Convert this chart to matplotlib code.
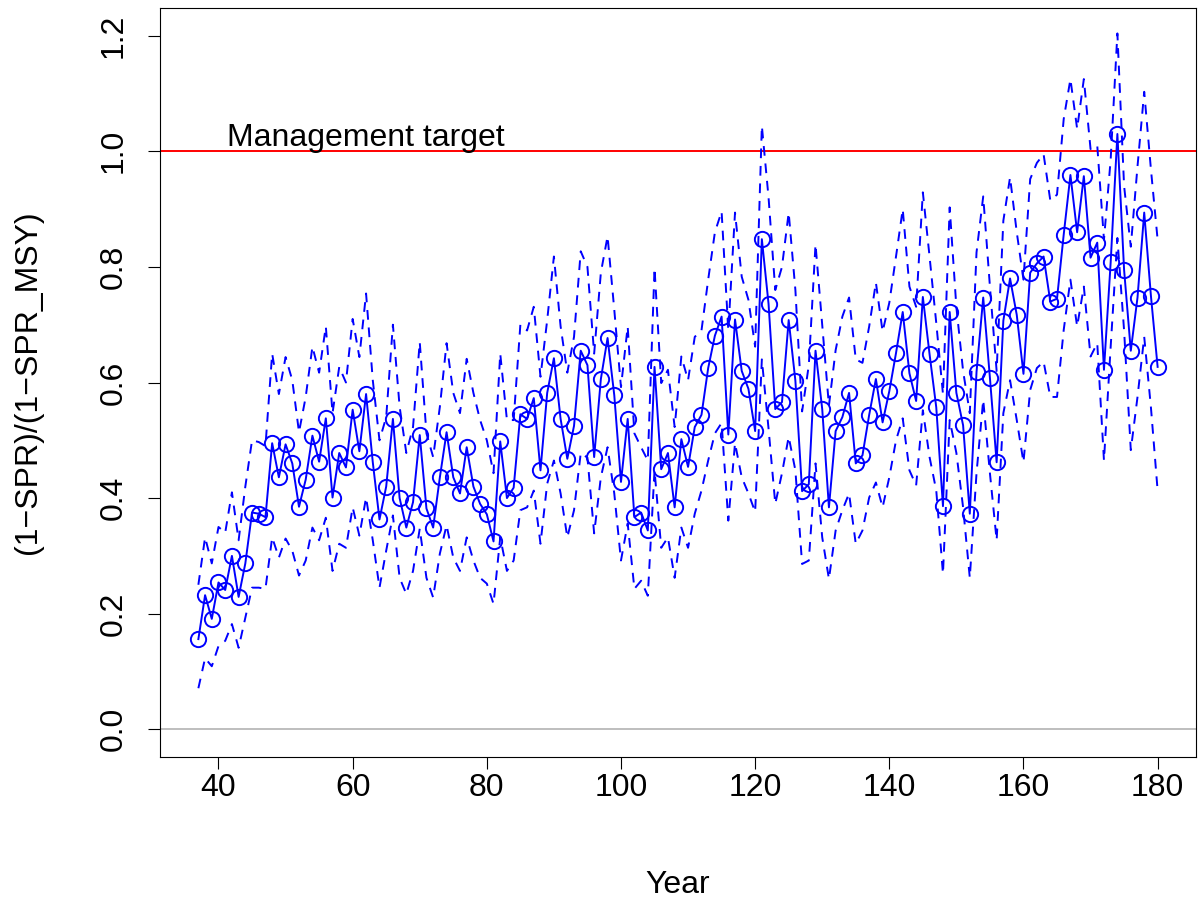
import numpy as np
import matplotlib
matplotlib.use("Agg")
import matplotlib.pyplot as plt

plt.rcParams['font.family'] = ['Liberation Sans', 'DejaVu Sans']

# years 37..180
years = np.arange(37, 181)

# estimate of (1-SPR)/(1-SPR_MSY)
ratio = [
    0.156, 0.232, 0.191, 0.254, 0.241, 0.300, 0.229, 0.287, 0.375, 0.373,
    0.367, 0.495, 0.436, 0.493, 0.460, 0.385, 0.432, 0.508, 0.463, 0.538,
    0.401, 0.478, 0.453, 0.553, 0.481, 0.580, 0.462, 0.363, 0.420, 0.537,
    0.400, 0.349, 0.393, 0.509, 0.382, 0.349, 0.436, 0.514, 0.436, 0.408,
    0.488, 0.420, 0.390, 0.372, 0.325, 0.498, 0.400, 0.418, 0.545, 0.537,
    0.573, 0.448, 0.582, 0.642, 0.537, 0.468, 0.525, 0.655, 0.630, 0.471,
    0.606, 0.677, 0.578, 0.428, 0.537, 0.367, 0.375, 0.344, 0.627, 0.450,
    0.478, 0.384, 0.502, 0.454, 0.523, 0.544, 0.625, 0.681, 0.714, 0.510,
    0.709, 0.620, 0.589, 0.516, 0.848, 0.736, 0.554, 0.566, 0.708, 0.603,
    0.412, 0.424, 0.655, 0.554, 0.384, 0.516, 0.540, 0.582, 0.460, 0.474,
    0.544, 0.606, 0.531, 0.585, 0.651, 0.722, 0.616, 0.568, 0.748, 0.649,
    0.557, 0.386, 0.722, 0.582, 0.526, 0.373, 0.618, 0.747, 0.608, 0.462,
    0.707, 0.780, 0.717, 0.615, 0.790, 0.806, 0.818, 0.740, 0.745, 0.856,
    0.959, 0.860, 0.957, 0.816, 0.842, 0.622, 0.808, 1.030, 0.795, 0.655,
    0.747, 0.894, 0.750, 0.627,
]

# upper and lower interval
upper = [
    0.250, 0.332, 0.287, 0.350, 0.340, 0.410, 0.327, 0.420, 0.500, 0.497,
    0.490, 0.650, 0.580, 0.644, 0.604, 0.514, 0.575, 0.662, 0.617, 0.697,
    0.547, 0.627, 0.600, 0.710, 0.644, 0.754, 0.604, 0.500, 0.540, 0.700,
    0.558, 0.478, 0.523, 0.670, 0.512, 0.471, 0.558, 0.668, 0.582, 0.547,
    0.641, 0.582, 0.535, 0.500, 0.443, 0.650, 0.535, 0.535, 0.700, 0.690,
    0.731, 0.610, 0.708, 0.818, 0.697, 0.617, 0.679, 0.827, 0.800, 0.650,
    0.790, 0.853, 0.726, 0.592, 0.697, 0.512, 0.488, 0.465, 0.798, 0.599,
    0.622, 0.523, 0.645, 0.604, 0.679, 0.690, 0.778, 0.860, 0.896, 0.690,
    0.894, 0.783, 0.743, 0.662, 1.044, 0.920, 0.760, 0.800, 0.894, 0.760,
    0.550, 0.630, 0.839, 0.700, 0.560, 0.656, 0.714, 0.747, 0.640, 0.634,
    0.697, 0.773, 0.688, 0.738, 0.818, 0.900, 0.766, 0.731, 0.929, 0.818,
    0.703, 0.580, 0.903, 0.730, 0.620, 0.547, 0.825, 0.922, 0.766, 0.620,
    0.880, 0.955, 0.860, 0.778, 0.952, 0.980, 0.995, 0.915, 0.925, 1.056,
    1.125, 1.039, 1.125, 1.004, 1.010, 0.847, 0.986, 1.204, 0.940, 0.835,
    0.974, 1.103, 0.969, 0.847,
]

lower = [
    0.071, 0.123, 0.109, 0.144, 0.153, 0.182, 0.141, 0.193, 0.245, 0.245,
    0.243, 0.332, 0.297, 0.330, 0.309, 0.266, 0.292, 0.349, 0.327, 0.366,
    0.274, 0.321, 0.314, 0.384, 0.335, 0.401, 0.327, 0.245, 0.309, 0.370,
    0.262, 0.234, 0.274, 0.347, 0.262, 0.228, 0.304, 0.353, 0.297, 0.274,
    0.332, 0.292, 0.262, 0.252, 0.217, 0.332, 0.274, 0.292, 0.379, 0.384,
    0.413, 0.321, 0.425, 0.465, 0.408, 0.332, 0.379, 0.478, 0.470, 0.339,
    0.436, 0.488, 0.408, 0.292, 0.356, 0.243, 0.257, 0.231, 0.448, 0.314,
    0.332, 0.262, 0.349, 0.314, 0.373, 0.413, 0.465, 0.512, 0.530, 0.361,
    0.495, 0.436, 0.408, 0.376, 0.640, 0.520, 0.390, 0.443, 0.506, 0.448,
    0.286, 0.292, 0.460, 0.332, 0.260, 0.344, 0.379, 0.408, 0.321, 0.344,
    0.401, 0.427, 0.384, 0.436, 0.500, 0.538, 0.448, 0.422, 0.552, 0.471,
    0.413, 0.269, 0.535, 0.478, 0.384, 0.262, 0.443, 0.570, 0.443, 0.327,
    0.547, 0.604, 0.535, 0.462, 0.587, 0.625, 0.636, 0.575, 0.575, 0.691,
    0.778, 0.697, 0.766, 0.645, 0.668, 0.465, 0.662, 0.850, 0.690, 0.483,
    0.575, 0.679, 0.557, 0.413,
]

target = 1.0
x_ticks = [40, 60, 80, 100, 120, 140, 160, 180]
y_ticks = [0.0, 0.2, 0.4, 0.6, 0.8, 1.0, 1.2]
fs = 23

fig = plt.figure(figsize=(11.98, 9.08), dpi=100)
ax = fig.add_axes([160/1198, 1 - 757/908, 1036/1198, 749/908])

ax.axhline(target, color="#FF0000", lw=1.4)
ax.axhline(0.0, color="#BEBEBE", lw=1.4)

ax.plot(years, ratio, color="#0000FF", lw=1.4, marker="o", ms=11,
        mfc="none", mec="#0000FF", mew=1.4)
ax.plot(years, upper, color="#0000FF", lw=1.4, dashes=(5, 4))
ax.plot(years, lower, color="#0000FF", lw=1.4, dashes=(5, 4))

ax.text(41.2, 0.997, "Management target", fontsize=fs, ha="left", va="bottom")

ax.set_xlim(31.28, 185.72)
ax.set_ylim(-0.048, 1.248)
ax.set_xticks(x_ticks)
ax.set_xticklabels([str(v) for v in x_ticks])
ax.set_yticks(y_ticks)
ax.set_yticklabels([f"{v:.1f}" for v in y_ticks], rotation=90, va="center")
ax.tick_params(axis="both", length=8.5, width=0.8, labelsize=fs, direction="out")
ax.tick_params(axis="x", pad=3)
ax.tick_params(axis="y", pad=14)
for s in ax.spines.values():
    s.set_linewidth(0.8)

fig.text(678/1198, 1 - 885/908, "Year", fontsize=fs, ha="center", va="center")
fig.text(28/1198, 1 - 382/908, "(1\u2212SPR)/(1\u2212SPR_MSY)", fontsize=fs,
         ha="center", va="center", rotation=90)

fig.savefig("out.png", dpi=100)
